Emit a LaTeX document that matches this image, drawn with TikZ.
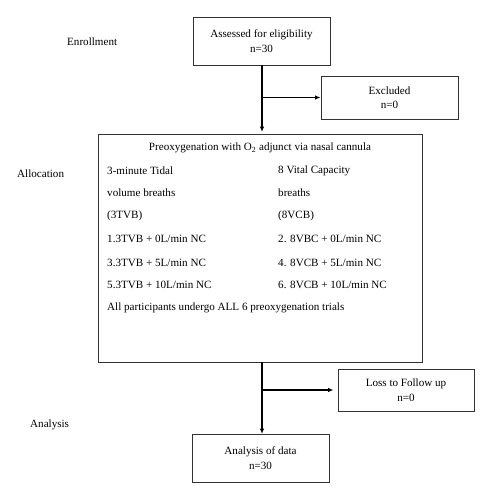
\documentclass[tikz,border=0pt]{standalone}
\usepackage{fontspec}
\setmainfont{Liberation Serif}
\usetikzlibrary{arrows.meta}
\begin{document}
\begin{tikzpicture}[x=1pt,y=-1pt,
  every node/.style={font=\fontsize{11.1}{12.5}\selectfont, inner sep=0pt},
  box/.style={draw=black!80, line width=0.9pt, rectangle, align=center},
  txt/.style={anchor=west},
  lbl/.style={anchor=west},
  conn/.style={line width=1.4pt, -{Latex[length=5.5pt,width=4.5pt]}}]
\useasboundingbox (0,0) rectangle (492,500);
\node[box, minimum width=137pt, minimum height=48pt] (assess) at (261.5,41) {Assessed for eligibility\\[2pt]n=30};
\node[box, minimum width=137pt, minimum height=43pt] (excl) at (389.5,97.5) {Excluded\\[2pt]n=0};
\node[box, minimum width=324pt, minimum height=228pt] (big) at (260,248) {};
\node[box, minimum width=136pt, minimum height=42pt] (loss) at (406,390) {Loss to Follow up\\[2pt]n=0};
\node[box, minimum width=137pt, minimum height=48pt] (anal) at (260.5,458) {Analysis of data\\[2pt]n=30};

\node[lbl] (enr) at (67,42) {Enrollment};
\node[lbl] (alloc) at (17,174) {Allocation};
\node[lbl] (ana) at (30,425) {Analysis};

\node (title) at (260,148) {Preoxygenation with O\textsubscript{2} adjunct via nasal cannula};
\node[txt] (l1) at (107,171) {3-minute Tidal};
\node[txt] (l2) at (107,193) {volume breaths};
\node[txt] (l3) at (107,216) {(3TVB)};
\node[txt] (l4) at (107,239) {1.3TVB + 0L/min NC};
\node[txt] (l5) at (107,263) {3.3TVB + 5L/min NC};
\node[txt] (l6) at (107,285) {5.3TVB + 10L/min NC};
\node[txt] (r1) at (278,171) {8 Vital Capacity};
\node[txt] (r2) at (278,193) {breaths};
\node[txt] (r3) at (278,216) {(8VCB)};
\node[txt] (r4) at (278,239) {2. 8VBC + 0L/min NC};
\node[txt] (r5) at (278,263) {4. 8VCB + 5L/min NC};
\node[txt] (r6) at (278,285) {6. 8VCB + 10L/min NC};
\node[txt] (all) at (107,308) {All participants undergo ALL 6 preoxygenation trials};

\coordinate (a1) at (262,65);
\coordinate (a2) at (262,134);
\draw[conn, shorten >=2pt] (a1) -- (a2);
\draw[conn] (a1 |- excl.west) -- (excl.west);
\coordinate (b1) at (262,362);
\coordinate (b2) at (262,434);
\draw[conn] (b1) -- (b2);
\draw[conn, shorten >=4pt] (b1 |- loss.west) -- (loss.west);
\end{tikzpicture}
\end{document}
